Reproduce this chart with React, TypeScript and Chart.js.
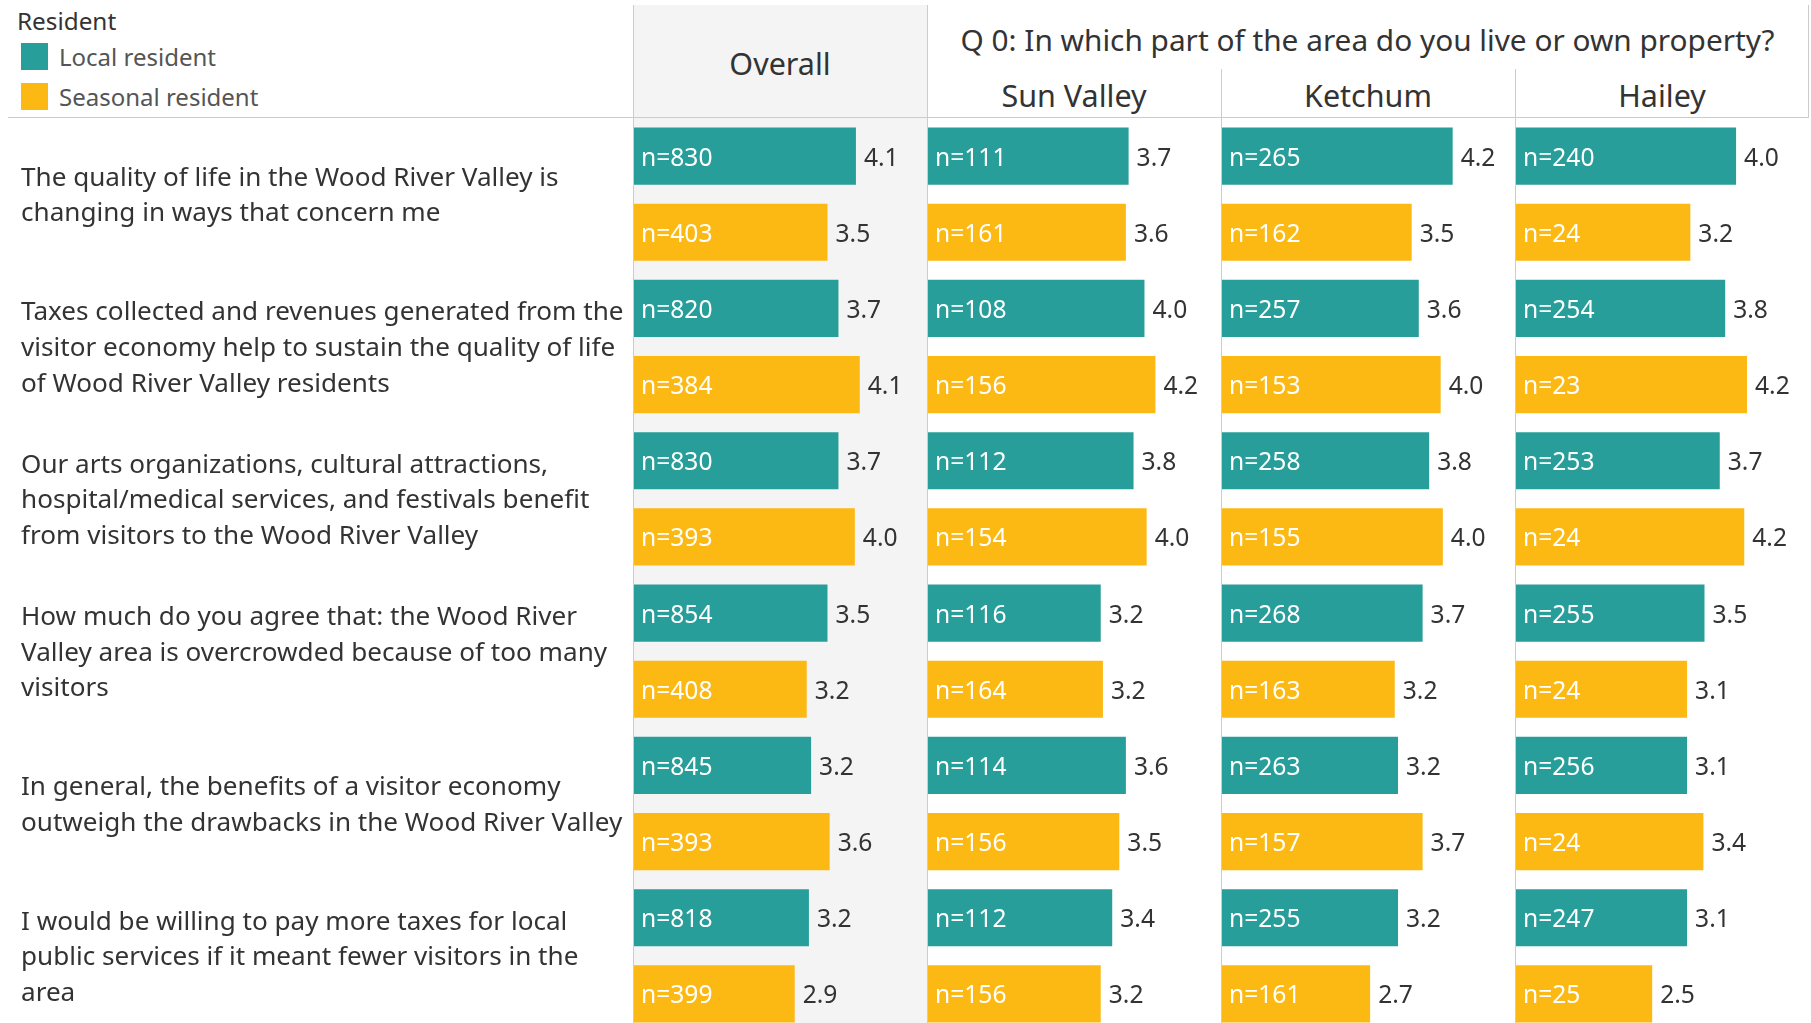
import React, { useEffect, useRef } from 'react';
import { Chart, registerables } from 'chart.js';

Chart.register(...registerables);

// ---------------- data ----------------
const questions: string[][] = [
  ['The quality of life in the Wood River Valley is', 'changing in ways that concern me'],
  ['Taxes collected and revenues generated from the', 'visitor economy help to sustain the quality of life', 'of Wood River Valley residents'],
  ['Our arts organizations, cultural attractions,', 'hospital/medical services, and festivals benefit', 'from visitors to the Wood River Valley'],
  ['How much do you agree that: the Wood River', 'Valley area is overcrowded because of too many', 'visitors'],
  ['In general, the benefits of a visitor economy', 'outweigh the drawbacks in the Wood River Valley'],
  ['I would be willing to pay more taxes for local', 'public services if it meant fewer visitors in the', 'area'],
];
const seriesNames = ['Local resident', 'Seasonal resident'];
const panelNames = ['Overall', 'Sun Valley', 'Ketchum', 'Hailey'];
const groupTitle = 'Q 0: In which part of the area do you live or own property?';
const legendTitle = 'Resident';

const overallLocal = [4.06, 3.74, 3.74, 3.54, 3.24, 3.2];
const overallSeasonal = [3.54, 4.13, 4.04, 3.16, 3.58, 2.94];
const sunValleyLocal = [3.67, 3.96, 3.76, 3.16, 3.62, 3.37];
const sunValleySeasonal = [3.62, 4.16, 4.0, 3.2, 3.5, 3.16];
const ketchumLocal = [4.22, 3.6, 3.79, 3.67, 3.22, 3.22];
const ketchumSeasonal = [3.47, 4.0, 4.04, 3.16, 3.67, 2.71];
const haileyLocal = [4.04, 3.84, 3.74, 3.46, 3.14, 3.14];
const haileySeasonal = [3.2, 4.24, 4.19, 3.14, 3.44, 2.5];

const overallLocalN = [830, 820, 830, 854, 845, 818];
const overallSeasonalN = [403, 384, 393, 408, 393, 399];
const sunValleyLocalN = [111, 108, 112, 116, 114, 112];
const sunValleySeasonalN = [161, 156, 154, 164, 156, 156];
const ketchumLocalN = [265, 257, 258, 268, 263, 255];
const ketchumSeasonalN = [162, 153, 155, 163, 157, 161];
const haileyLocalN = [240, 254, 253, 255, 256, 247];
const haileySeasonalN = [24, 23, 24, 24, 24, 25];

// ---------------- styling / layout ----------------
const FONT = '"Noto Sans", sans-serif';
const COLORS = ['#289e9a', '#fdb913'];
const LINE = '#cccccc';
const XMAX = 5.36;
const CHART_TOP = 118;
const CHART_H = 914;

const panelValues = [
  [overallLocal, overallSeasonal],
  [sunValleyLocal, sunValleySeasonal],
  [ketchumLocal, ketchumSeasonal],
  [haileyLocal, haileySeasonal],
];
const panelCounts = [
  [overallLocalN, overallSeasonalN],
  [sunValleyLocalN, sunValleySeasonalN],
  [ketchumLocalN, ketchumSeasonalN],
  [haileyLocalN, haileySeasonalN],
];
const panelGeom = [
  { left: 0, width: 927, padLeft: 21, axisWidth: 613 },
  { left: 928, width: 293, padLeft: 0, axisWidth: 0 },
  { left: 1222, width: 293, padLeft: 0, axisWidth: 0 },
  { left: 1516, width: 292, padLeft: 0, axisWidth: 0 },
];

const labelPlugin = {
  id: 'barLabels',
  afterDatasetsDraw(chart: any) {
    const ctx = chart.ctx;
    const counts = chart.options.plugins.barLabels.counts as number[][];
    ctx.save();
    ctx.font = `24.6px ${FONT}`;
    ctx.textBaseline = 'middle';
    ctx.textAlign = 'left';
    chart.data.datasets.forEach((ds: any, i: number) => {
      const meta = chart.getDatasetMeta(i);
      meta.data.forEach((bar: any, j: number) => {
        const p = bar.getProps(['x', 'y', 'base'], true);
        ctx.fillStyle = '#ffffff';
        ctx.fillText(`n=${counts[i][j]}`, p.base + 7, p.y + 2.5);
        ctx.fillStyle = '#333333';
        ctx.fillText((ds.data[j] as number).toFixed(1), p.x + 8, p.y + 2.5);
      });
    });
    ctx.restore();
  },
};

function Panel({ idx }: { idx: number }) {
  const ref = useRef<HTMLCanvasElement | null>(null);
  useEffect(() => {
    if (!ref.current) return;
    const g = panelGeom[idx];
    const showAxis = idx === 0;
    const chart = new Chart(ref.current, {
      type: 'bar',
      data: {
        labels: questions,
        datasets: seriesNames.map((name, s) => ({
          label: name,
          data: panelValues[idx][s],
          backgroundColor: COLORS[s],
          borderWidth: 0,
          categoryPercentage: 1,
          barPercentage: 0.75,
        })),
      },
      options: {
        indexAxis: 'y',
        animation: false,
        responsive: false,
        maintainAspectRatio: false,
        devicePixelRatio: 1,
        layout: { padding: { left: g.padLeft, right: 0, top: 0, bottom: 0 } },
        plugins: {
          legend: { display: false },
          tooltip: { enabled: false },
          barLabels: { counts: panelCounts[idx] },
        } as any,
        scales: {
          x: { display: false, min: 0, max: XMAX },
          y: {
            display: showAxis,
            grid: { display: false },
            border: { display: false },
            ticks: {
              crossAlign: 'far',
              padding: 0,
              labelOffset: 2,
              color: '#333333',
              font: { family: FONT, size: 26.1, lineHeight: 1.37 },
            },
            afterFit: (scale: any) => {
              if (showAxis) scale.width = g.axisWidth;
              scale.paddingTop = 0;
              scale.paddingBottom = 0;
            },
          },
        },
      } as any,
      plugins: [labelPlugin],
    });
    return () => chart.destroy();
  }, [idx]);
  const g = panelGeom[idx];
  return (
    <canvas
      ref={ref}
      width={g.width}
      height={CHART_H}
      style={{ position: 'absolute', left: g.left, top: CHART_TOP, width: g.width, height: CHART_H }}
    />
  );
}

const abs = (o: React.CSSProperties): React.CSSProperties => ({ position: 'absolute', ...o });

function CenterText({ text, cx, cy, w, size, color }: { text: string; cx: number; cy: number; w: number; size: number; color: string }) {
  return (
    <div
      style={abs({
        left: cx - w / 2,
        top: cy - 25,
        width: w,
        height: 50,
        lineHeight: '50px',
        textAlign: 'center',
        fontSize: size,
        color,
        whiteSpace: 'nowrap',
      })}
    >
      {text}
    </div>
  );
}

export default function App() {
  useEffect(() => {
    document.body.style.margin = '0';
    document.body.style.overflow = 'hidden';
  }, []);
  return (
    <div
      style={{
        position: 'fixed',
        left: 0,
        top: 0,
        width: 1811,
        height: 1023,
        overflow: 'hidden',
        background: '#ffffff',
        fontFamily: FONT,
      }}
    >
      {/* Overall panel background */}
      <div style={abs({ left: 633, top: 5, width: 294, height: 1100, background: '#f4f4f4' })} />
      {/* lines */}
      <div style={abs({ left: 8, top: 117, width: 1801, height: 1, background: LINE })} />
      <div style={abs({ left: 633, top: 5, width: 1, height: 1100, background: LINE })} />
      <div style={abs({ left: 927, top: 5, width: 1, height: 1100, background: LINE })} />
      <div style={abs({ left: 1221, top: 69, width: 1, height: 1100, background: LINE })} />
      <div style={abs({ left: 1515, top: 69, width: 1, height: 1100, background: LINE })} />
      <div style={abs({ left: 1808, top: 5, width: 1, height: 113, background: LINE })} />

      {/* legend */}
      <div style={abs({ left: 17, top: 6, height: 30, lineHeight: '30px', fontSize: 24.3, color: '#333' })}>{legendTitle}</div>
      {seriesNames.map((n, i) => (
        <React.Fragment key={n}>
          <div style={abs({ left: 21, top: 43 + i * 40, width: 27, height: 27, background: COLORS[i] })} />
          <div style={abs({ left: 59, top: 41 + i * 40, height: 32, lineHeight: '32px', fontSize: 24, color: '#555', whiteSpace: 'nowrap' })}>{n}</div>
        </React.Fragment>
      ))}

      {/* headers */}
      <CenterText text={panelNames[0]} cx={780} cy={63} w={290} size={30.5} color="#333" />
      <CenterText text={groupTitle} cx={1367.5} cy={40} w={900} size={29.8} color="#333" />
      <CenterText text={panelNames[1]} cx={1074} cy={95} w={290} size={30.5} color="#333" />
      <CenterText text={panelNames[2]} cx={1368} cy={95} w={290} size={30.5} color="#333" />
      <CenterText text={panelNames[3]} cx={1662} cy={95} w={290} size={30.5} color="#333" />

      {panelNames.map((p, i) => (
        <Panel key={p} idx={i} />
      ))}
    </div>
  );
}
